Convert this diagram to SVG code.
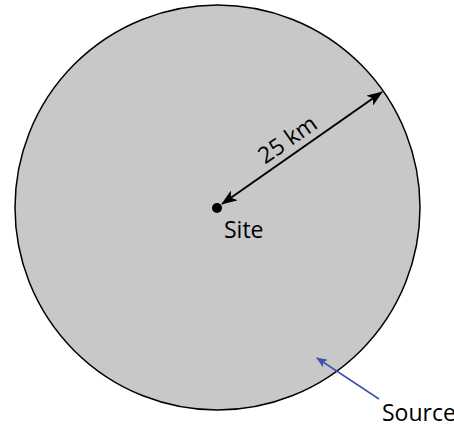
<svg xmlns="http://www.w3.org/2000/svg" width="454" height="425" viewBox="0 0 454 425">
  <style>
    .label { font-family: "Open Sans", "Liberation Sans", sans-serif; font-size: 23px; fill: #000; }
  </style>
  <defs>
    <marker id="headBlack" viewBox="0 0 16 12" refX="15" refY="6" markerWidth="16" markerHeight="12" markerUnits="userSpaceOnUse" orient="auto-start-reverse">
      <path d="M0,0 L16,6 L0,12 L4,6 Z" fill="#000"/>
    </marker>
    <marker id="headBlue" viewBox="0 0 11 9" refX="10" refY="4.5" markerWidth="11" markerHeight="9" markerUnits="userSpaceOnUse" orient="auto">
      <path d="M0,0 L11,4.5 L0,9 L2.5,4.5 Z" fill="#3b55a8"/>
    </marker>
  </defs>

  <g id="area">
    <circle cx="217.5" cy="207.5" r="202.5" fill="#c8c8c8" stroke="#000" stroke-width="1.5"/>
  </g>

  <g id="site">
    <circle cx="217" cy="208" r="5" fill="#000"/>
    <text class="label" x="224" y="238">Site</text>
  </g>

  <g id="connectors">
    <line x1="222" y1="204" x2="382" y2="92" stroke="#000" stroke-width="2" marker-start="url(#headBlack)" marker-end="url(#headBlack)"/>
    <line x1="379" y1="399" x2="317" y2="358" stroke="#3b55a8" stroke-width="1.5" marker-end="url(#headBlue)"/>
  </g>

  <g id="radius-label">
    <text class="label" x="292" y="146" text-anchor="middle" transform="rotate(-35 292 146)">25 km</text>
  </g>

  <g id="source">
    <text class="label" x="382" y="421">Source</text>
  </g>
</svg>
